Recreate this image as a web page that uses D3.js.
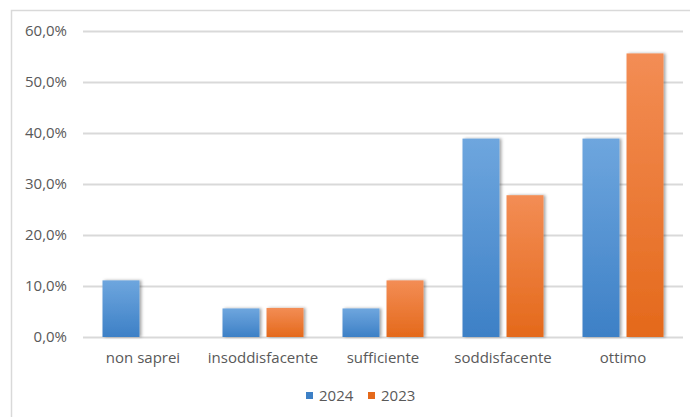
<!DOCTYPE html>
<html>
<head>
<meta charset="utf-8">
<script src="https://cdn.jsdelivr.net/npm/d3@7"></script>
<style>
  body { margin: 0; background: #fff; }
  svg text { font-family: "Open Sans", "Noto Sans", sans-serif; fill: #595959; }
</style>
</head>
<body>
<svg id="chart" width="690" height="417"></svg>
<script>
const categories = ["non saprei", "insoddisfacente", "sufficiente", "soddisfacente", "ottimo"];
const series = ["2024", "2023"];
const values2024 = [11.1, 5.6, 5.6, 38.9, 38.9];
const values2023 = [0, 5.7, 11.1, 27.8, 55.6];
const yTicks = [0, 10, 20, 30, 40, 50, 60];

const svg = d3.select("#chart"),
      width = +svg.attr("width"),
      height = +svg.attr("height");

const margin = {top: 31, right: 7, bottom: 80, left: 83};

const defs = svg.append("defs");
const grads = {
    "2024": ["#6ea6de", "#3d80c6"],
    "2023": ["#f38d55", "#e4691b"]
};
series.forEach(s => {
    const lg = defs.append("linearGradient")
        .attr("id", "g" + s)
        .attr("x1", 0).attr("y1", 0).attr("x2", 0).attr("y2", 1);
    lg.append("stop").attr("offset", "0%").attr("stop-color", grads[s][0]);
    lg.append("stop").attr("offset", "100%").attr("stop-color", grads[s][1]);
});
defs.append("filter").attr("id", "shadow")
    .attr("x", "-20%").attr("y", "-10%").attr("width", "150%").attr("height", "130%")
  .append("feDropShadow")
    .attr("dx", 2).attr("dy", 0).attr("stdDeviation", 1.5)
    .attr("flood-color", "#000").attr("flood-opacity", 0.35);

// chart frame
svg.append("path")
    .attr("d", `M11.5,${height} V10.5 H${width}`)
    .attr("fill", "none")
    .attr("stroke", "#d9d9d9")
    .attr("stroke-width", 1.5);

const x0 = d3.scaleBand()
    .domain(categories)
    .range([margin.left, width - margin.right])
    .paddingInner(0.325)
    .paddingOuter(0.1625);

const x1 = d3.scaleBand()
    .domain(series)
    .range([0, x0.bandwidth()])
    .paddingInner(0.16);

const y = d3.scaleLinear()
    .domain([0, 60])
    .range([337, margin.top]);

// grid lines
svg.append("g")
    .selectAll("line")
    .data(yTicks)
    .join("line")
    .attr("x1", margin.left)
    .attr("x2", width - margin.right)
    .attr("y1", d => Math.round(y(d)) + 0.5)
    .attr("y2", d => Math.round(y(d)) + 0.5)
    .attr("stroke", "#d9d9d9")
    .attr("stroke-width", 2);

// y labels
svg.append("g")
    .selectAll("text")
    .data(yTicks)
    .join("text")
    .attr("x", 67)
    .attr("y", d => y(d))
    .attr("dy", "0.35em")
    .attr("text-anchor", "end")
    .style("font-size", "15px")
    .text(d => d3.format(".1f")(d).replace(".", ",") + "%");

const data = categories.map((c, i) => ({
    category: c,
    vals: [
        {series: "2024", value: values2024[i]},
        {series: "2023", value: values2023[i]}
    ]
}));

svg.append("g")
    .selectAll("g")
    .data(data)
    .join("g")
    .attr("transform", d => `translate(${x0(d.category)},0)`)
    .selectAll("rect")
    .data(d => d.vals.filter(v => v.value > 0))
    .join("rect")
    .attr("x", d => x1(d.series))
    .attr("y", d => y(d.value))
    .attr("width", x1.bandwidth())
    .attr("height", d => y(0) - y(d.value))
    .attr("fill", d => `url(#g${d.series})`)
    .attr("filter", "url(#shadow)");

// category labels
svg.append("g")
    .selectAll("text")
    .data(categories)
    .join("text")
    .attr("x", d => x0(d) + x0.bandwidth() / 2)
    .attr("y", 358)
    .attr("dy", "0.35em")
    .attr("text-anchor", "middle")
    .style("font-size", "15px")
    .text(d => d);

// legend
const legendX = [306, 368];
const legend = svg.append("g")
    .selectAll("g")
    .data(series)
    .join("g")
    .attr("transform", (d, i) => `translate(${legendX[i]},392)`);
legend.append("rect")
    .attr("width", 7).attr("height", 7)
    .attr("fill", d => grads[d][1]);
legend.append("text")
    .attr("x", 13)
    .attr("y", 4)
    .attr("dy", "0.35em")
    .style("font-size", "15px")
    .text(d => d);
</script>
</body>
</html>
